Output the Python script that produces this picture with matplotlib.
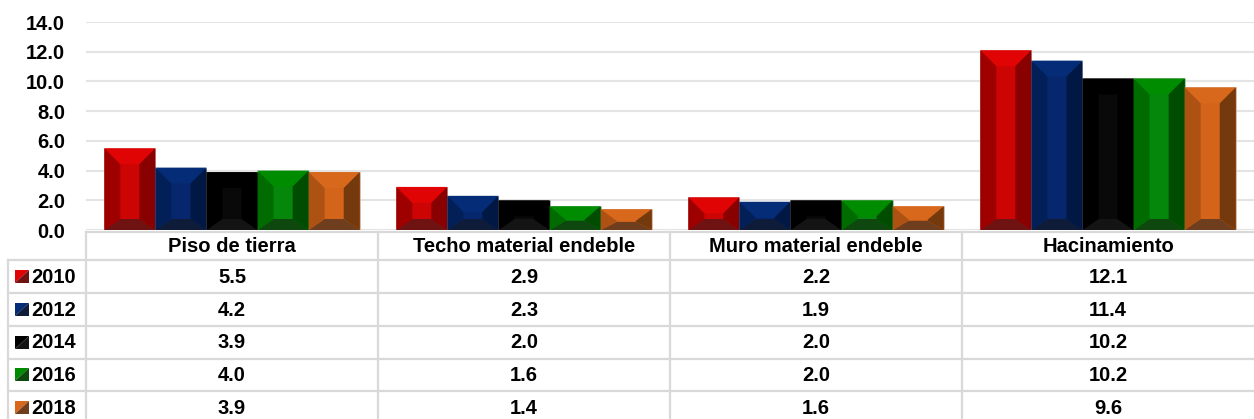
import numpy as np
import matplotlib.pyplot as plt
from matplotlib.patches import Polygon

plt.rcParams['font.family'] = ['Liberation Sans', 'DejaVu Sans']
plt.rcParams['font.weight'] = 'bold'

categorias = ["Piso de tierra", "Techo material endeble", "Muro material endeble", "Hacinamiento"]
anios = ["2010", "2012", "2014", "2016", "2018"]
v2010 = [5.5, 2.9, 2.2, 12.1]
v2012 = [4.2, 2.3, 1.9, 11.4]
v2014 = [3.9, 2.0, 2.0, 10.2]
v2016 = [4.0, 1.6, 2.0, 10.2]
v2018 = [3.9, 1.4, 1.6, 9.6]
series = [v2010, v2012, v2014, v2016, v2018]

# cara, arriba, izquierda, derecha, abajo
colores = [
    ("#CC0404", "#E00404", "#9E0000", "#880000", "#6E1212"),
    ("#06276E", "#052C76", "#031F58", "#021844", "#0E1C3A"),
    ("#090909", "#000000", "#000000", "#000000", "#141414"),
    ("#04870A", "#008C00", "#006C00", "#004C00", "#0E480E"),
    ("#D4641A", "#D8681C", "#AE5214", "#743A0E", "#6E3E1E"),
]

W, H = 1254, 419
fig = plt.figure(figsize=(W / 100, H / 100), dpi=100)


def fx(px):
    return px / W


def fy(py):
    return 1 - py / H


# --- grafico de barras ---
ax = fig.add_axes([fx(86), fy(230), fx(1254) - fx(86), fy(22) - fy(230)])
ax.set_xlim(-0.5, 3.5)
ax.set_ylim(0, 14)
ax.set_yticks(np.arange(0, 15, 2))
ax.set_yticklabels(["%.1f" % t for t in np.arange(0, 15, 2)], fontsize=14.5, fontweight='bold')
ax.set_xticks([])
ax.tick_params(axis='y', length=0, pad=15)
for s in ax.spines.values():
    s.set_visible(False)
ax.yaxis.grid(True, color='#E4E4E4', linewidth=1.5)
ax.set_axisbelow(True)

pxx = 292.0          # px por unidad x
pxy = 208.0 / 14     # px por unidad y
ancho = 0.175
bx = 16 / pxx
bt0 = 16 / pxy
bb0 = 11 / pxy
x = np.arange(len(categorias))

for i, vals in enumerate(series):
    cara, arr, izq, der, aba = colores[i]
    pos = x + (i - 2) * ancho
    bars = ax.bar(pos, vals, width=ancho, color=cara, edgecolor='#C8C8C8', linewidth=0.4, zorder=2)
    for b in bars:
        x0 = b.get_x()
        x1 = x0 + b.get_width()
        h = b.get_height()
        k = min(1.0, 0.95 * h / (bt0 + bb0))
        bt, bb = bt0 * k, bb0 * k
        polys = [
            ([(x0, h), (x1, h), (x1 - bx, h - bt), (x0 + bx, h - bt)], arr),
            ([(x0, 0), (x1, 0), (x1 - bx, bb), (x0 + bx, bb)], aba),
            ([(x0, 0), (x0 + bx, bb), (x0 + bx, h - bt), (x0, h)], izq),
            ([(x1, 0), (x1 - bx, bb), (x1 - bx, h - bt), (x1, h)], der),
        ]
        for pts, c in polys:
            ax.add_patch(Polygon(pts, closed=True, facecolor=c, edgecolor='none', zorder=3))

# --- tabla de datos ---
hdr = 28.4 / 32.7
izq_col = -0.5 - 78 / pxx
tb = fig.add_axes([fx(8), fy(424), fx(1254) - fx(8), fy(232) - fy(424)])
tb.set_xlim(izq_col, 3.5)
tb.set_ylim(hdr + len(anios), 0)
tb.axis('off')
lc = '#D9D9D9'
lw = 1.6
tb.plot([-0.5, 3.5], [0, 0], color=lc, lw=lw, clip_on=False)
for r in range(len(anios) + 1):
    tb.plot([izq_col, 3.5], [hdr + r, hdr + r], color=lc, lw=lw, clip_on=False)
for c in range(len(categorias)):
    tb.plot([-0.5 + c, -0.5 + c], [0, hdr + len(anios)], color=lc, lw=lw, clip_on=False)
tb.plot([izq_col, izq_col], [hdr, hdr + len(anios)], color=lc, lw=lw, clip_on=False)

for c, cat in enumerate(categorias):
    tb.text(c, hdr / 2 + 0.02, cat, ha='center', va='center', fontsize=14.5, fontweight='bold')

sw_x0 = -0.5 - (86 - 15) / pxx
sw_x1 = -0.5 - (86 - 29) / pxx
sw_h = 6.5 / 32.7
for r, (anio, vals) in enumerate(zip(anios, series)):
    yc = hdr + r + 0.5
    cara, arr, izq, der, aba = colores[r]
    tb.add_patch(Polygon([(sw_x0, yc + sw_h), (sw_x0, yc - sw_h), (sw_x1, yc - sw_h)],
                         closed=True, facecolor=arr, edgecolor='none'))
    tb.add_patch(Polygon([(sw_x0, yc + sw_h), (sw_x1, yc + sw_h), (sw_x1, yc - sw_h)],
                         closed=True, facecolor=aba, edgecolor='none'))
    tb.text(-0.5 - (86 - 31) / pxx, yc + 0.02, anio, ha='left', va='center', fontsize=14.5, fontweight='bold')
    for c, v in enumerate(vals):
        tb.text(c, yc + 0.02, "%.1f" % v, ha='center', va='center', fontsize=14.5, fontweight='bold')

fig.savefig("out.png", dpi=100)
